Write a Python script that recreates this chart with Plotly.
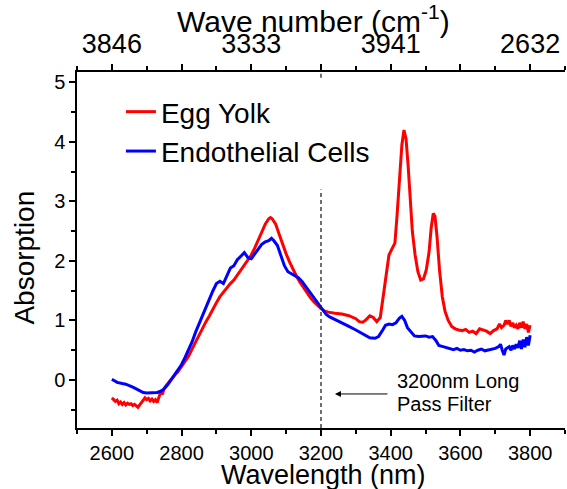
import plotly.graph_objects as go

# ---- data ----
egg_wl = [2600, 2605, 2610, 2615, 2620, 2625, 2630, 2635, 2640, 2645, 2650, 2655, 2660, 2665, 2670,
          2675, 2680, 2685, 2690, 2695, 2700, 2705, 2710, 2715, 2720, 2725, 2730, 2735, 2740, 2745,
          2750, 2755, 2760, 2770, 2780, 2790, 2800, 2810, 2820, 2830, 2840, 2850, 2860, 2870, 2880,
          2890, 2900, 2910, 2920, 2930, 2940, 2950, 2960, 2970, 2980, 2990, 3000, 3010, 3020, 3030,
          3040, 3050, 3055, 3060, 3070, 3080, 3090, 3100, 3110, 3120, 3130, 3140, 3150, 3160, 3170,
          3180, 3190, 3200, 3210, 3220, 3240, 3260, 3280, 3290, 3300, 3310, 3320, 3330, 3340, 3350,
          3360, 3370, 3380, 3388, 3395, 3405, 3412, 3418, 3425, 3432, 3438, 3444, 3450, 3456, 3462,
          3470, 3478, 3486, 3494, 3502, 3510, 3516, 3522, 3527, 3533, 3540, 3548, 3556, 3565, 3575,
          3585, 3595, 3605, 3615, 3625, 3635, 3645, 3655, 3665, 3675, 3685, 3695, 3705, 3712, 3718,
          3725, 3730, 3735, 3740, 3745, 3750, 3755, 3760, 3765, 3770, 3775, 3780, 3785, 3790, 3795, 3800]
egg_abs = [-0.30, -0.33, -0.36, -0.34, -0.40, -0.37, -0.41, -0.38, -0.42, -0.39, -0.41, -0.40, -0.43, -0.41, -0.44,
           -0.46, -0.42, -0.38, -0.34, -0.30, -0.33, -0.31, -0.35, -0.32, -0.36, -0.33, -0.38, -0.30, -0.20, -0.24,
           -0.14, -0.10, -0.06, 0.02, 0.08, 0.14, 0.22, 0.30, 0.40, 0.52, 0.64, 0.76, 0.88, 0.98, 1.08,
           1.20, 1.30, 1.40, 1.48, 1.55, 1.62, 1.68, 1.76, 1.84, 1.93, 2.02, 2.10, 2.22, 2.36, 2.50,
           2.62, 2.71, 2.73, 2.71, 2.62, 2.45, 2.28, 2.12, 1.98, 1.85, 1.74, 1.64, 1.55, 1.46, 1.38,
           1.31, 1.25, 1.20, 1.16, 1.14, 1.12, 1.11, 1.08, 1.06, 1.03, 0.98, 0.97, 1.02, 1.08, 1.05,
           0.98, 1.05, 1.45, 1.85, 2.10, 2.22, 2.30, 2.75, 3.40, 3.95, 4.20, 4.05, 3.60, 3.00, 2.50,
           2.10, 1.82, 1.68, 1.70, 1.85, 2.15, 2.55, 2.80, 2.75, 2.40, 1.85, 1.40, 1.15, 1.00, 0.90,
           0.86, 0.84, 0.83, 0.85, 0.80, 0.82, 0.78, 0.86, 0.84, 0.82, 0.78, 0.83, 0.86, 0.94, 0.88,
           0.92, 1.00, 0.94, 1.00, 0.90, 0.96, 0.88, 0.92, 0.86, 0.96, 0.88, 0.98, 0.86, 0.94, 0.80, 0.92]

endo_wl = [2600, 2605, 2610, 2615, 2620, 2630, 2640, 2650, 2660, 2670, 2680, 2690, 2700, 2710, 2720,
           2730, 2740, 2750, 2760, 2770, 2780, 2790, 2800, 2810, 2820, 2830, 2840, 2850, 2860, 2870,
           2880, 2890, 2900, 2910, 2920, 2930, 2940, 2950, 2960, 2970, 2980, 2990, 3000, 3010, 3020,
           3030, 3040, 3050, 3058, 3065, 3075, 3085, 3095, 3105, 3115, 3125, 3135, 3145, 3155, 3165,
           3175, 3185, 3195, 3205, 3215, 3225, 3240, 3260, 3280, 3300, 3320, 3340, 3355, 3365, 3375,
           3385, 3395, 3405, 3415, 3425, 3432, 3440, 3448, 3458, 3468, 3480, 3490, 3500, 3510, 3520,
           3530, 3538, 3550, 3560, 3570, 3580, 3590, 3600, 3610, 3620, 3630, 3640, 3650, 3660, 3670,
           3680, 3690, 3700, 3710, 3715, 3720, 3725, 3730, 3740, 3745, 3750, 3755, 3760, 3765, 3770,
           3775, 3780, 3785, 3790, 3795, 3800]
endo_abs = [0.01, 0.00, -0.02, -0.04, -0.05, -0.06, -0.07, -0.09, -0.12, -0.15, -0.18, -0.21, -0.22, -0.22, -0.22,
            -0.21, -0.19, -0.15, -0.08, 0.00, 0.08, 0.16, 0.26, 0.38, 0.50, 0.64, 0.80, 0.94, 1.10, 1.24,
            1.38, 1.50, 1.62, 1.66, 1.62, 1.76, 1.88, 1.92, 2.02, 2.08, 2.14, 2.06, 2.04, 2.12, 2.20,
            2.28, 2.32, 2.34, 2.38, 2.34, 2.26, 2.10, 1.92, 1.82, 1.79, 1.76, 1.72, 1.66, 1.58, 1.49,
            1.40, 1.32, 1.24, 1.16, 1.10, 1.06, 1.02, 0.96, 0.90, 0.84, 0.78, 0.71, 0.70, 0.73, 0.82,
            0.92, 0.94, 0.93, 0.96, 1.04, 1.07, 1.00, 0.88, 0.80, 0.74, 0.73, 0.73, 0.74, 0.72, 0.73,
            0.66, 0.58, 0.56, 0.54, 0.52, 0.51, 0.53, 0.50, 0.51, 0.49, 0.50, 0.47, 0.50, 0.52, 0.49,
            0.50, 0.51, 0.53, 0.56, 0.60, 0.50, 0.42, 0.52, 0.56, 0.50, 0.58, 0.52, 0.60, 0.54, 0.66,
            0.52, 0.68, 0.55, 0.72, 0.58, 0.75]

bottom_ticks = [2600, 2800, 3000, 3200, 3400, 3600, 3800]
top_tick_vals = [2600, 2800, 3000, 3200, 3400, 3600, 3800]
top_tick_text = ["3846", " ", "3333", " ", "3941", " ", "2632"]
y_ticks = [0, 1, 2, 3, 4, 5]
filter_wl = 3200

FONT = "Liberation Sans, Arial, sans-serif"

fig = go.Figure()
fig.add_trace(go.Scatter(x=egg_wl, y=egg_abs, mode="lines", name="Egg Yolk",
                         line=dict(color="#ff0000", width=3)))
fig.add_trace(go.Scatter(x=endo_wl, y=endo_abs, mode="lines", name="Endothelial Cells",
                         line=dict(color="#0000ff", width=3)))
# hidden trace so the top (wave number) axis is drawn
fig.add_trace(go.Scatter(x=egg_wl[:1], y=egg_abs[:1], xaxis="x2", mode="lines",
                         showlegend=False, hoverinfo="skip", line=dict(width=0)))

axis_common = dict(showline=True, linecolor="black", linewidth=1.5, ticks="outside",
                   tickcolor="black", tickwidth=1.5, ticklen=6, showgrid=False, zeroline=False,
                   automargin=False,
                   minor=dict(ticks="outside", ticklen=4, tickcolor="black", tickwidth=1.5, dtick=100))

fig.update_layout(
    width=567, height=489,
    margin=dict(l=77, r=2, t=72, b=61),
    plot_bgcolor="white", paper_bgcolor="white",
    font=dict(family=FONT, color="black"),
    showlegend=True,
    legend=dict(x=0.09, y=0.958, xanchor="left", yanchor="top", bgcolor="rgba(0,0,0,0)",
                font=dict(size=28, family=FONT), tracegroupgap=0),
    xaxis=dict(range=[2500, 3900], tickvals=bottom_ticks, tickfont=dict(size=20), **axis_common),
    xaxis2=dict(range=[2500, 3900], overlaying="x", side="top", anchor="y", matches="x",
                tickvals=top_tick_vals, ticktext=top_tick_text, tickfont=dict(size=27),
                **axis_common),
    yaxis=dict(range=[-0.807, 5.176], tickvals=y_ticks, tickfont=dict(size=20),
               showline=True, linecolor="black", linewidth=1.5, ticks="outside", automargin=False,
               tickcolor="black", tickwidth=1.5, ticklen=6, showgrid=False, zeroline=False,
               minor=dict(ticks="outside", ticklen=4, tickcolor="black", tickwidth=1.5, dtick=0.5)),
)

# axis titles
fig.add_annotation(text="Wavelength (nm)", xref="paper", yref="paper", x=0.506, y=-0.131,
                   xanchor="center", yanchor="middle", showarrow=False, font=dict(size=27))
fig.add_annotation(text="Wave number (cm<sup>-1</sup>)", xref="paper", yref="paper", x=0.484, y=1.15,
                   xanchor="center", yanchor="middle", showarrow=False, font=dict(size=30))
fig.add_annotation(text="Absorption", xref="paper", yref="paper", x=-0.107, y=0.478, textangle=-90,
                   xanchor="center", yanchor="middle", showarrow=False, font=dict(size=28))

# filter line
fig.add_shape(type="line", xref="x", yref="y", x0=filter_wl, x1=filter_wl, y0=-0.807, y1=3.2,
              line=dict(color="#222222", width=1.3, dash="4px,3px"))
fig.add_shape(type="line", xref="x", yref="y", x0=filter_wl, x1=filter_wl, y0=5.08, y1=5.176,
              line=dict(color="#222222", width=1.3, dash="4px,3px"))

fig.add_annotation(x=3240, y=-0.235, ax=3395, ay=-0.235, xref="x", yref="y", axref="x", ayref="y",
                   text="", showarrow=True, arrowhead=2, arrowsize=1.2, arrowwidth=1, arrowcolor="black")
fig.add_annotation(x=3412, y=-0.02, xref="x", yref="y", text="3200nm Long", showarrow=False,
                   xanchor="left", yanchor="middle", font=dict(size=20, family=FONT))
fig.add_annotation(x=3412, y=-0.40, xref="x", yref="y", text="Pass Filter", showarrow=False,
                   xanchor="left", yanchor="middle", font=dict(size=20, family=FONT))

fig.write_html("out.html", config={"displayModeBar": False},
               post_script="document.body.style.margin='0px';")
